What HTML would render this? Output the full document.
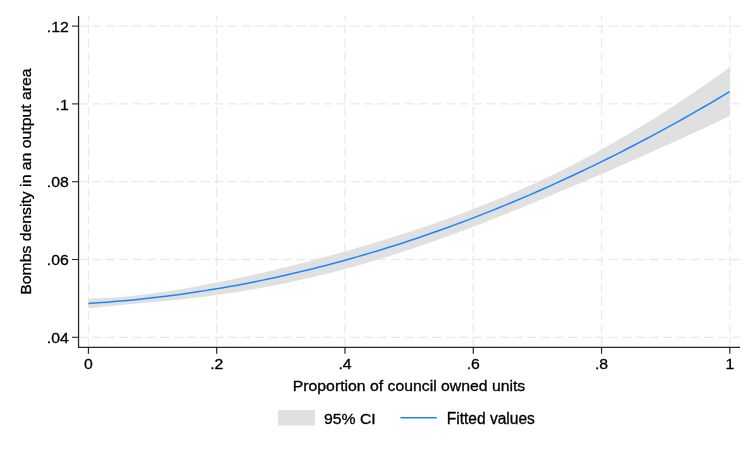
<!DOCTYPE html>
<html><head><meta charset="utf-8"><style>
html,body{margin:0;padding:0;background:#fff;width:756px;height:454px;overflow:hidden}
svg{display:block;will-change:transform}
.t{font-family:"Liberation Sans",sans-serif;font-size:15.8px;fill:#000;stroke:#000;stroke-width:0.32px}
</style></head><body>
<svg width="756" height="454" viewBox="0 0 756 454">
<rect x="0" y="0" width="756" height="454" fill="#fff"/>
<line x1="78.4" y1="26.10" x2="740" y2="26.10" stroke="#e9e9e9" stroke-width="1.3" stroke-dasharray="9.2 4.4"/>
<line x1="78.4" y1="103.90" x2="740" y2="103.90" stroke="#e9e9e9" stroke-width="1.3" stroke-dasharray="9.2 4.4"/>
<line x1="78.4" y1="181.70" x2="740" y2="181.70" stroke="#e9e9e9" stroke-width="1.3" stroke-dasharray="9.2 4.4"/>
<line x1="78.4" y1="259.50" x2="740" y2="259.50" stroke="#e9e9e9" stroke-width="1.3" stroke-dasharray="9.2 4.4"/>
<line x1="78.4" y1="337.30" x2="740" y2="337.30" stroke="#e9e9e9" stroke-width="1.3" stroke-dasharray="9.2 4.4"/>
<line x1="88.45" y1="347" x2="88.45" y2="16" stroke="#e9e9e9" stroke-width="1.3" stroke-dasharray="9.2 4.4"/>
<line x1="216.72" y1="347" x2="216.72" y2="16" stroke="#e9e9e9" stroke-width="1.3" stroke-dasharray="9.2 4.4"/>
<line x1="344.99" y1="347" x2="344.99" y2="16" stroke="#e9e9e9" stroke-width="1.3" stroke-dasharray="9.2 4.4"/>
<line x1="473.26" y1="347" x2="473.26" y2="16" stroke="#e9e9e9" stroke-width="1.3" stroke-dasharray="9.2 4.4"/>
<line x1="601.53" y1="347" x2="601.53" y2="16" stroke="#e9e9e9" stroke-width="1.3" stroke-dasharray="9.2 4.4"/>
<line x1="729.80" y1="347" x2="729.80" y2="16" stroke="#e9e9e9" stroke-width="1.3" stroke-dasharray="9.2 4.4"/>
<polygon points="88.45,298.48 94.86,298.35 101.28,298.13 107.69,297.83 114.10,297.45 120.52,296.99 126.93,296.44 133.34,295.82 139.76,295.12 146.17,294.34 152.58,293.51 159.00,292.61 165.41,291.67 171.83,290.67 178.24,289.62 184.65,288.53 191.07,287.41 197.48,286.24 203.89,285.05 210.31,283.81 216.72,282.55 223.13,281.26 229.55,279.93 235.96,278.58 242.37,277.20 248.79,275.79 255.20,274.36 261.61,272.90 268.03,271.41 274.44,269.89 280.85,268.35 287.27,266.79 293.68,265.19 300.10,263.57 306.51,261.93 312.92,260.26 319.34,258.56 325.75,256.84 332.16,255.09 338.58,253.31 344.99,251.51 351.40,249.68 357.82,247.82 364.23,245.94 370.64,244.02 377.06,242.08 383.47,240.11 389.88,238.11 396.30,236.08 402.71,234.02 409.12,231.93 415.54,229.81 421.95,227.65 428.37,225.46 434.78,223.24 441.19,220.98 447.61,218.68 454.02,216.35 460.43,213.97 466.85,211.56 473.26,209.11 479.67,206.61 486.09,204.07 492.50,201.48 498.91,198.85 505.33,196.17 511.74,193.43 518.15,190.65 524.57,187.82 530.98,184.93 537.39,181.99 543.81,178.99 550.22,175.94 556.64,172.83 563.05,169.66 569.46,166.43 575.88,163.15 582.29,159.81 588.70,156.41 595.12,152.95 601.53,149.43 607.94,145.86 614.36,142.22 620.77,138.53 627.18,134.78 633.60,130.98 640.01,127.11 646.42,123.19 652.84,119.22 659.25,115.19 665.66,111.10 672.08,106.96 678.49,102.76 684.91,98.51 691.32,94.20 697.73,89.84 704.15,85.43 710.56,80.96 716.97,76.44 723.39,71.87 729.80,67.24 729.80,116.04 723.39,119.08 716.97,122.10 710.56,125.10 704.15,128.09 697.73,131.06 691.32,134.02 684.91,136.96 678.49,139.89 672.08,142.80 665.66,145.70 659.25,148.58 652.84,151.45 646.42,154.31 640.01,157.15 633.60,159.98 627.18,162.80 620.77,165.61 614.36,168.40 607.94,171.19 601.53,173.96 595.12,176.72 588.70,179.47 582.29,182.21 575.88,184.94 569.46,187.66 563.05,190.36 556.64,193.06 550.22,195.74 543.81,198.41 537.39,201.07 530.98,203.72 524.57,206.34 518.15,208.96 511.74,211.55 505.33,214.13 498.91,216.69 492.50,219.23 486.09,221.74 479.67,224.23 473.26,226.70 466.85,229.14 460.43,231.55 454.02,233.93 447.61,236.29 441.19,238.61 434.78,240.89 428.37,243.15 421.95,245.37 415.54,247.55 409.12,249.70 402.71,251.81 396.30,253.88 389.88,255.91 383.47,257.91 377.06,259.86 370.64,261.78 364.23,263.65 357.82,265.48 351.40,267.27 344.99,269.02 338.58,270.73 332.16,272.39 325.75,274.01 319.34,275.59 312.92,277.13 306.51,278.62 300.10,280.07 293.68,281.47 287.27,282.84 280.85,284.16 274.44,285.43 268.03,286.66 261.61,287.85 255.20,289.00 248.79,290.11 242.37,291.17 235.96,292.19 229.55,293.17 223.13,294.11 216.72,295.01 210.31,295.87 203.89,296.70 197.48,297.48 191.07,298.24 184.65,298.96 178.24,299.65 171.83,300.31 165.41,300.95 159.00,301.58 152.58,302.18 146.17,302.78 139.76,303.37 133.34,303.97 126.93,304.56 120.52,305.17 114.10,305.79 107.69,306.43 101.28,307.08 94.86,307.74 88.45,308.42" fill="#e0e0e0" stroke="none"/>
<polyline points="88.45,303.45 94.86,303.05 101.28,302.61 107.69,302.13 114.10,301.62 120.52,301.08 126.93,300.50 133.34,299.89 139.76,299.24 146.17,298.56 152.58,297.85 159.00,297.10 165.41,296.31 171.83,295.49 178.24,294.64 184.65,293.75 191.07,292.82 197.48,291.86 203.89,290.87 210.31,289.84 216.72,288.78 223.13,287.68 229.55,286.55 235.96,285.39 242.37,284.19 248.79,282.95 255.20,281.68 261.61,280.38 268.03,279.04 274.44,277.66 280.85,276.25 287.27,274.81 293.68,273.33 300.10,271.82 306.51,270.27 312.92,268.69 319.34,267.08 325.75,265.43 332.16,263.74 338.58,262.02 344.99,260.27 351.40,258.48 357.82,256.65 364.23,254.79 370.64,252.90 377.06,250.97 383.47,249.01 389.88,247.01 396.30,244.98 402.71,242.92 409.12,240.81 415.54,238.68 421.95,236.51 428.37,234.30 434.78,232.07 441.19,229.79 447.61,227.48 454.02,225.14 460.43,222.76 466.85,220.35 473.26,217.90 479.67,215.42 486.09,212.91 492.50,210.35 498.91,207.77 505.33,205.15 511.74,202.49 518.15,199.81 524.57,197.08 530.98,194.32 537.39,191.53 543.81,188.70 550.22,185.84 556.64,182.94 563.05,180.01 569.46,177.04 575.88,174.04 582.29,171.01 588.70,167.94 595.12,164.83 601.53,161.69 607.94,158.52 614.36,155.31 620.77,152.07 627.18,148.79 633.60,145.48 640.01,142.13 646.42,138.75 652.84,135.33 659.25,131.88 665.66,128.40 672.08,124.88 678.49,121.32 684.91,117.73 691.32,114.11 697.73,110.45 704.15,106.76 710.56,103.03 716.97,99.27 723.39,95.47 729.80,91.64" fill="none" stroke="#1a85ff" stroke-width="1.5" stroke-linejoin="round"/>
<path d="M78.55,16 L78.55,347.35 L740,347.35" fill="none" stroke="#262626" stroke-width="1.25" stroke-linejoin="round"/>
<line x1="72" y1="26.10" x2="78.6" y2="26.10" stroke="#262626" stroke-width="1.1"/>
<text class="t" transform="translate(68.70,31.70) scale(1.0,0.94)" text-anchor="end">.12</text>
<line x1="72" y1="103.90" x2="78.6" y2="103.90" stroke="#262626" stroke-width="1.1"/>
<text class="t" transform="translate(68.70,109.50) scale(1.0,0.94)" text-anchor="end">.1</text>
<line x1="72" y1="181.70" x2="78.6" y2="181.70" stroke="#262626" stroke-width="1.1"/>
<text class="t" transform="translate(68.70,187.30) scale(1.0,0.94)" text-anchor="end">.08</text>
<line x1="72" y1="259.50" x2="78.6" y2="259.50" stroke="#262626" stroke-width="1.1"/>
<text class="t" transform="translate(68.70,265.10) scale(1.0,0.94)" text-anchor="end">.06</text>
<line x1="72" y1="337.30" x2="78.6" y2="337.30" stroke="#262626" stroke-width="1.1"/>
<text class="t" transform="translate(68.70,342.90) scale(1.0,0.94)" text-anchor="end">.04</text>
<line x1="88.45" y1="347.35" x2="88.45" y2="353.8" stroke="#262626" stroke-width="1.2"/>
<text class="t" transform="translate(88.45,368.80) scale(1.0,0.94)" text-anchor="middle">0</text>
<line x1="216.72" y1="347.35" x2="216.72" y2="353.8" stroke="#262626" stroke-width="1.2"/>
<text class="t" transform="translate(216.72,368.80) scale(1.0,0.94)" text-anchor="middle">.2</text>
<line x1="344.99" y1="347.35" x2="344.99" y2="353.8" stroke="#262626" stroke-width="1.2"/>
<text class="t" transform="translate(344.99,368.80) scale(1.0,0.94)" text-anchor="middle">.4</text>
<line x1="473.26" y1="347.35" x2="473.26" y2="353.8" stroke="#262626" stroke-width="1.2"/>
<text class="t" transform="translate(473.26,368.80) scale(1.0,0.94)" text-anchor="middle">.6</text>
<line x1="601.53" y1="347.35" x2="601.53" y2="353.8" stroke="#262626" stroke-width="1.2"/>
<text class="t" transform="translate(601.53,368.80) scale(1.0,0.94)" text-anchor="middle">.8</text>
<line x1="729.80" y1="347.35" x2="729.80" y2="353.8" stroke="#262626" stroke-width="1.2"/>
<text class="t" transform="translate(729.80,368.80) scale(1.0,0.94)" text-anchor="middle">1</text>
<text class="t" transform="translate(409.00,390.80) scale(1.0,0.98)" text-anchor="middle">Proportion of council owned units</text>
<text class="t" transform="translate(31,181.6) rotate(-90) scale(1,0.98)" text-anchor="middle">Bombs density in an output area</text>
<rect x="278" y="410" width="37" height="15.6" fill="#e0e0e0"/>
<text class="t" transform="translate(324.00,424.00) scale(1.0,0.98)" text-anchor="start">95% CI</text>
<line x1="400.4" y1="417.8" x2="436.8" y2="417.8" stroke="#1a85ff" stroke-width="1.6"/>
<text class="t" transform="translate(446.70,423.90) scale(0.985,1.0)" text-anchor="start">Fitted values</text>
</svg>
</body></html>
